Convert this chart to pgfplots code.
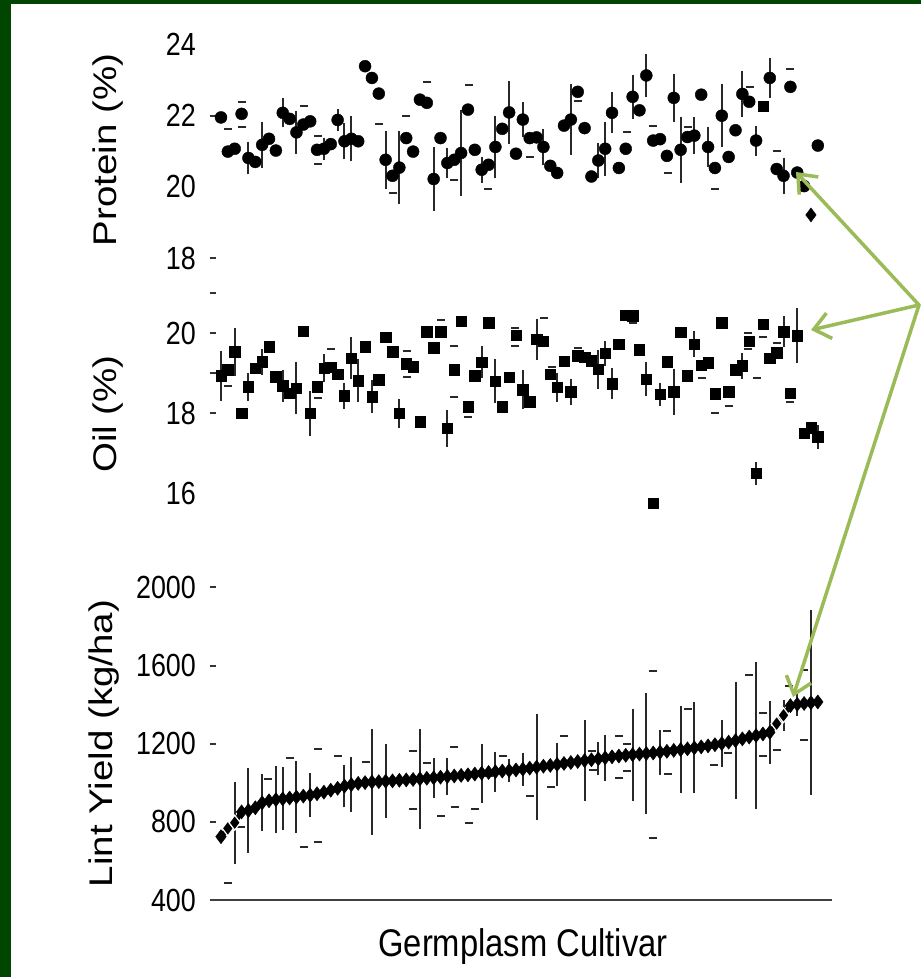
\documentclass[border=0pt]{standalone}
\usepackage{fontspec}
\setmainfont{Liberation Sans}
\usepackage{pgfplots}
\usepackage{pgfplotstable}
\pgfplotsset{compat=1.18}
\usetikzlibrary{arrows.meta}

\definecolor{frame}{RGB}{0,70,0}
\definecolor{arrowgreen}{RGB}{155,187,89}
\definecolor{bar}{RGB}{40,40,40}

\newcommand\tickfont{\fontsize{32}{34}\selectfont}
\newcommand\labfont{\fontsize{38.5}{40}\selectfont}

% protein (%) per cultivar (80 and 87 drawn with other markers)
\pgfplotstableread{
i v
1 21.95
2 20.99
3 21.07
4 22.05
5 20.81
6 20.70
7 21.18
8 21.35
9 21.02
10 22.08
11 21.91
12 21.53
13 21.75
14 21.84
15 21.04
16 21.07
17 21.20
18 21.88
19 21.28
20 21.35
21 21.28
22 23.39
23 23.06
24 22.62
25 20.76
26 20.31
27 20.54
28 21.37
29 20.99
30 22.45
31 22.36
32 20.22
33 21.37
34 20.67
35 20.76
36 20.95
37 22.17
38 21.04
39 20.48
40 20.62
41 21.12
42 21.63
43 22.09
44 20.93
45 21.89
46 21.37
47 21.39
48 21.12
49 20.59
50 20.39
51 21.72
52 21.89
53 22.67
54 21.65
55 20.29
56 20.74
57 21.07
58 22.08
59 20.53
60 21.07
61 22.53
62 22.15
63 23.13
64 21.30
65 21.34
66 20.87
67 22.50
68 21.04
69 21.40
70 21.44
71 22.59
72 21.12
73 20.53
74 22.00
75 20.84
76 21.59
77 22.61
78 22.39
79 21.30
81 23.06
82 20.50
83 20.31
84 22.81
85 20.40
86 20.02
88 21.16
}\protein

\pgfplotstableread{
i v e
5 20.81 0.35
7 21.18 0.53
10 22.08 0.30
12 21.53 0.49
16 21.07 0.20
18 21.88 0.20
19 21.28 0.39
20 21.35 0.52
25 20.76 0.70
27 20.54 0.92
32 20.22 0.78
34 20.67 0.30
36 20.95 1.10
39 20.48 0.25
41 21.12 0.77
43 22.09 0.77
45 21.89 0.37
48 21.12 0.40
52 21.89 0.88
56 20.74 0.39
57 21.07 0.64
58 22.08 0.46
61 22.53 0.50
63 23.13 0.48
67 22.50 0.56
68 21.04 0.82
70 21.44 0.40
72 21.12 0.45
74 22.00 0.78
77 22.61 0.54
79 21.30 0.31
81 23.06 0.45
83 20.31 0.40
}\proteinerr

\pgfplotstableread{
i v
2.06 21.63
4.10 22.39
4.10 21.67
13.10 22.28
15.10 21.42
15.10 20.65
24.03 21.77
26.12 19.82
27.97 21.98
31.07 22.95
35.01 20.20
37.15 22.85
39.97 19.94
46.04 20.85
53.09 22.40
60.14 21.53
63.93 21.72
66.12 20.40
69.12 21.68
73.01 19.94
78.11 22.81
82.00 21.02
83.94 23.32
}\proteincaps

% oil (%)
\pgfplotstableread{
i v
1 18.93
2 19.08
3 19.53
4 17.99
5 18.66
6 19.12
7 19.28
8 19.66
9 18.91
10 18.68
11 18.49
12 18.62
13 20.05
14 17.99
15 18.66
16 19.12
17 19.14
18 18.97
19 18.43
20 19.37
21 18.81
22 19.66
23 18.41
24 18.83
25 19.89
26 19.53
27 17.99
28 19.23
29 19.16
30 17.78
31 20.03
32 19.63
33 20.03
34 17.62
35 19.08
36 20.30
37 18.16
38 18.93
39 19.27
40 20.26
41 18.80
42 18.16
43 18.89
44 19.95
45 18.58
46 18.28
47 19.84
48 19.80
49 18.97
50 18.64
51 19.30
52 18.53
53 19.43
54 19.39
55 19.31
56 19.09
57 19.49
58 18.73
59 19.72
60 20.45
61 20.43
62 19.58
63 18.85
64 15.74
65 18.47
66 19.28
67 18.53
68 20.02
69 18.93
70 19.72
71 19.20
72 19.26
73 18.48
74 20.26
75 18.53
76 19.08
77 19.18
78 19.80
79 16.49
80 20.22
81 19.37
82 19.51
83 20.03
84 18.49
85 19.93
86 17.49
87 17.63
88 17.41
}\oil

\pgfplotstableread{
i v e
1 18.93 0.52
3 19.53 0.50
5 18.66 0.25
7 19.28 0.22
10 18.68 0.30
12 18.62 0.55
14 17.99 0.46
16 19.12 0.25
19 18.43 0.22
20 19.37 0.42
21 18.81 0.44
23 18.41 0.32
27 17.99 0.26
34 17.62 0.36
39 19.27 0.30
41 18.80 0.44
45 18.58 0.39
47 19.84 0.42
50 18.64 0.27
52 18.53 0.23
56 19.09 0.39
57 19.49 0.21
58 18.73 0.29
63 18.85 0.32
65 18.47 0.19
67 18.53 0.48
70 19.72 0.23
77 19.18 0.23
79 16.49 0.18
83 20.03 0.29
85 19.93 0.59
88 17.41 0.20
}\oilerr

\pgfplotstableread{
i v
2.06 18.68
17.03 19.59
15.10 18.37
28.07 19.55
28.07 18.91
33.03 20.33
35.01 19.68
35.01 18.41
37.05 17.91
43.86 20.12
43.86 19.68
48.13 20.37
53.09 19.63
49.21 19.14
61.10 20.24
71.07 18.87
73.01 18.01
75.10 18.18
79.09 18.87
77.87 20.01
77.87 19.60
80.05 19.91
82.00 19.76
83.94 18.28
}\oilcaps

% lint yield (kg/ha), cultivars sorted by yield
\pgfplotstableread{
i v
1 724
2 767
3 796
4 851
5 858
6 872
7 898
8 908
9 914
10 918
11 922
12 927
13 932
14 937
15 944
16 952
17 962
18 972
19 983
20 991
21 997
22 1001
23 1004
24 1006
25 1008
26 1010
27 1013
28 1015
29 1017
30 1020
31 1023
32 1026
33 1029
34 1032
35 1035
36 1038
37 1041
38 1045
39 1049
40 1053
41 1057
42 1060
43 1063
44 1066
45 1070
46 1075
47 1080
48 1085
49 1089
50 1094
51 1099
52 1104
53 1109
54 1114
55 1118
56 1123
57 1128
58 1133
59 1137
60 1141
61 1144
62 1147
63 1150
64 1153
65 1157
66 1161
67 1166
68 1170
69 1174
70 1179
71 1184
72 1189
73 1195
74 1201
75 1208
76 1216
77 1225
78 1234
79 1242
80 1250
81 1258
82 1303
83 1346
84 1395
85 1402
86 1406
87 1410
88 1414
}\lint

\pgfplotstableread{
i v e
3 796 190
5 858 196
7 898 125
9 914 150
10 918 140
12 927 164
14 937 94
19 983 88
20 991 120
23 1004 250
25 1008 170
30 1020 236
32 1026 83
34 1032 75
39 1049 130
41 1057 82
43 1063 40
45 1070 64
47 1080 252
50 1094 91
54 1114 185
56 1123 64
57 1128 98
61 1144 215
63 1150 289
65 1157 94
68 1170 202
70 1179 212
74 1201 102
76 1216 278
79 1242 355
81 1258 142
83 1346 60
85 1402 40
87 1410 452
}\linterr

\pgfplotstableread{
i v
2.06 485
3.92 772
7.90 1017
11.06 1127
13.14 672
15.10 698
15.10 1175
18.01 1136
21.01 993
22.09 1107
29.03 1163
29.03 864
31.00 1102
33.07 829
35.01 1184
35.11 874
37.15 792
38.03 864
40.07 1034
42.15 1136
46.04 932
51.00 1238
49.10 979
55.04 1163
55.18 1065
59.02 1238
59.02 1025
60.14 1201
60.14 1061
64.02 1572
64.02 718
65.97 1265
66.12 1044
69.03 1380
72.91 1090
74.95 1153
77.97 1554
80.05 1358
80.05 1136
82.09 1170
83.80 1494
86.03 1579
86.03 1218
}\lintcaps

\pgfplotsset{
  panel/.style={
    scale only axis, width=622.5pt,
    xmin=-0.676, xmax=90.066,
    clip=false,
    axis x line=none,
    axis y line*=left,
    y axis line style={draw=none},
    ytick pos=left,
    xtick=\empty,
    major tick length=0pt,
    scaled y ticks=false,
    /pgf/number format/assume math mode=true,
    /pgf/number format/1000 sep={},
    yticklabel style={font=\tickfont, xscale=0.84, anchor=east, inner sep=0pt, xshift=-16pt},
    extra y tick labels={},
    extra y tick style={major tick length=6pt, tick align=inside,
      tick style={line width=2pt, draw=black!80}},
  },
  bars/.style={bar, line width=2pt, only marks, mark=none,
    error bars/.cd, y dir=both, y explicit,
    error bar style={line width=2pt, draw=bar},
    error mark options={draw=bar, line width=2pt, mark size=4pt}},
  caps/.style={only marks, mark=-, mark size=4pt,
    mark options={line width=2pt, draw=bar}},
}

\begin{document}
\begin{tikzpicture}[x=1pt,y=1pt]
\fill[white] (0,0) rectangle (921,977);
\fill[frame] (0,0) rectangle (11,977);
\fill[frame] (0,973) rectangle (921,977);

% protein
\begin{axis}[panel, at={(209.5pt,719pt)}, anchor=south west, height=213.5pt,
  ymin=18, ymax=24, ytick={18,20,22,24}, extra y ticks={18,22}]
\addplot[bars] table[x=i, y=v, y error=e] {\proteinerr};
\addplot[caps] table[x=i, y=v] {\proteincaps};
\addplot[only marks, mark=*, mark size=6pt, black] table[x=i, y=v] {\protein};
\addplot[only marks, mark=square*, mark size=5.2pt, black] coordinates {(80,22.26)};
\addplot[only marks, mark=diamond*, mark size=7pt, black] coordinates {(87,19.21)};
\end{axis}

% oil
\begin{axis}[panel, at={(209.5pt,484pt)}, anchor=south west, height=200pt,
  ymin=16, ymax=21, ytick={16,18,20}, extra y ticks={18,19,20,21}]
\addplot[bars] table[x=i, y=v, y error=e] {\oilerr};
\addplot[caps] table[x=i, y=v] {\oilcaps};
\addplot[only marks, mark=square*, mark size=5.2pt, black] table[x=i, y=v] {\oil};
\end{axis}

% lint yield
\begin{axis}[panel, at={(209.5pt,77pt)}, anchor=south west, height=312.5pt,
  ymin=400, ymax=2000, ytick={400,800,1200,1600,2000},
  extra y ticks={800,1200,1600,2000}]
\draw[line width=2.2pt, black!75] (rel axis cs:0,0) -- (rel axis cs:1,0);
\addplot[bars] table[x=i, y=v, y error=e] {\linterr};
\addplot[caps] table[x=i, y=v] {\lintcaps};
\addplot[black, line width=5pt, mark=diamond*, mark size=7pt,
  mark options={solid, fill=black, line width=0.5pt}] table[x=i, y=v] {\lint};
\addplot[only marks, mark=diamond*, mark size=7.5pt,
  mark options={fill=black, draw=white, line width=1.2pt}]
  coordinates {(2,767) (3,796) (82,1303) (83,1346)};
\end{axis}

\node[rotate=90, anchor=base, font=\labfont] at (116,827) {\scalebox{1}[0.85]{Protein (\%)}};
\node[rotate=90, anchor=base, font=\labfont] at (116,563) {\scalebox{1}[0.85]{Oil (\%)}};
\node[rotate=90, anchor=base, font=\labfont] at (112,233.5) {\scalebox{1}[0.85]{Lint Yield (kg/ha)}};
\node[anchor=base, font=\labfont] at (523,20) {\scalebox{0.85}[1]{Germplasm Cultivar}};

\begin{scope}[arrowgreen, line width=3.5pt, line cap=round,
  -{Straight Barb[length=16pt, width=26pt]}]
\draw (919,672) -- (796,805);
\draw (919,672) -- (811,647);
\draw (919,672) -- (793,280);
\end{scope}

\pgfresetboundingbox
\useasboundingbox (0,0) rectangle (921,977);
\end{tikzpicture}
\end{document}
